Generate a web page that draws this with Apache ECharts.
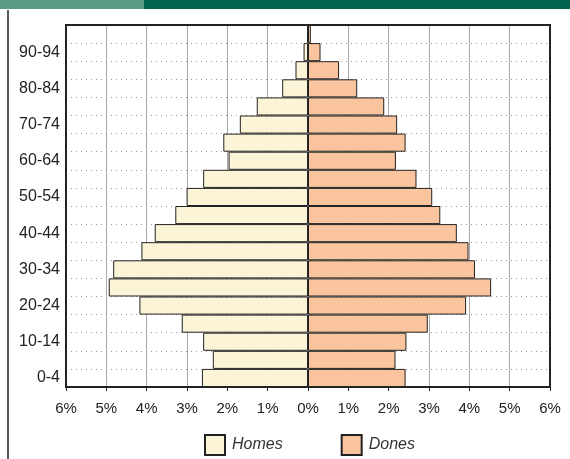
<!DOCTYPE html>
<html>
<head>
<meta charset="utf-8">
<script src="https://cdn.jsdelivr.net/npm/echarts@6/dist/echarts.min.js"></script>
<style>
  html, body { margin: 0; padding: 0; background: #fff; }
  #chart { width: 570px; height: 459px; }
</style>
</head>
<body>
<div id="chart"></div>
<script>
// age groups, bottom to top
const categories = ['0-4', '5-9', '10-14', '15-19', '20-24', '25-29', '30-34', '35-39', '40-44', '45-49',
  '50-54', '55-59', '60-64', '65-69', '70-74', '75-79', '80-84', '85-89', '90-94', '95+']
// % of population
const homes = [2.63, 2.36, 2.60, 3.13, 4.18, 4.94, 4.83, 4.13, 3.80, 3.29,
  3.01, 2.60, 1.97, 2.10, 1.69, 1.27, 0.64, 0.31, 0.11, 0.02]
const dones = [2.42, 2.17, 2.44, 2.97, 3.92, 4.54, 4.14, 3.98, 3.69, 3.28,
  3.08, 2.69, 2.18, 2.42, 2.21, 1.89, 1.22, 0.77, 0.31, 0.07]
const seriesNames = ['Homes', 'Dones']

const chart = echarts.init(document.getElementById('chart'), null, { renderer: 'canvas' })

const G = { left: 66, top: 25, width: 484, height: 362 }

chart.setOption({
  animation: false,
  textStyle: { fontFamily: 'Liberation Sans, Arial, sans-serif' },
  graphic: [
    { type: 'rect', shape: { x: 0, y: 0, width: 144, height: 9 }, style: { fill: '#5b9987' }, silent: true },
    { type: 'rect', shape: { x: 144, y: 0, width: 426, height: 9 }, style: { fill: '#00654f' }, silent: true },
    { type: 'line', shape: { x1: 8, y1: 10, x2: 8, y2: 459 }, style: { stroke: '#222', lineWidth: 1.5 }, silent: true },
    // plot frame on top of gridlines
    {
      type: 'rect', z: 100, silent: true,
      shape: { x: G.left, y: G.top, width: G.width, height: G.height },
      style: { fill: 'none', stroke: '#222', lineWidth: 2 }
    }
  ],
  legend: {
    left: 199,
    top: 429,
    itemWidth: 20,
    itemHeight: 20,
    itemGap: 58,
    icon: 'rect',
    textStyle: { fontSize: 16, fontStyle: 'italic', color: '#333', padding: [0, 0, 0, 2] },
    data: seriesNames
  },
  grid: {
    left: G.left,
    top: G.top,
    width: G.width,
    height: G.height,
    show: false,
    containLabel: false
  },
  xAxis: {
    type: 'value',
    min: -6,
    max: 6,
    interval: 1,
    axisLine: { show: true, lineStyle: { color: '#222', width: 2 } },
    axisTick: { show: true, length: 4, lineStyle: { color: '#222', width: 1 } },
    axisLabel: {
      margin: 14,
      fontSize: 15,
      color: '#222',
      formatter: v => Math.abs(v) + '%'
    },
    splitLine: { show: true, lineStyle: { color: '#a8a8a8', width: 1 } }
  },
  yAxis: {
    type: 'category',
    data: categories,
    boundaryGap: true,
    axisLine: { show: false },
    axisTick: { show: false },
    axisLabel: { interval: 1, margin: 6, fontSize: 16, color: '#222' },
    splitLine: { show: true, interval: 0, lineStyle: { color: '#999', width: 1, type: [1, 4] } }
  },
  series: [
    {
      name: seriesNames[0],
      type: 'bar',
      stack: 'pop',
      barCategoryGap: '0%',
      data: homes.map(v => -v),
      itemStyle: { color: '#fbf4d6', borderColor: '#222', borderWidth: 1 }
    },
    {
      name: seriesNames[1],
      type: 'bar',
      stack: 'pop',
      barCategoryGap: '0%',
      data: dones,
      itemStyle: { color: '#fac59e', borderColor: '#222', borderWidth: 1 }
    }
  ]
})
</script>
</body>
</html>
